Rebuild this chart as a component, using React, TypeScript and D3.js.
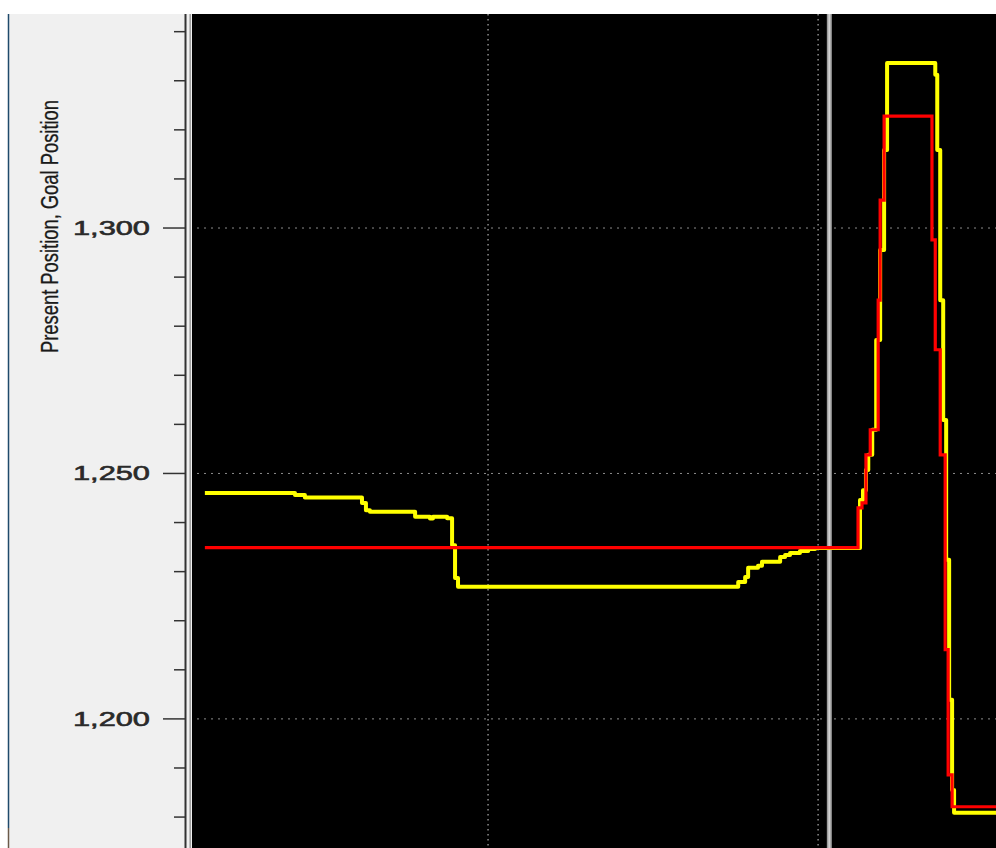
import * as React from "react";
import * as d3 from "d3";

// time in ms, positions in encoder units
const presentTime = [142, 415, 445, 618, 630, 642, 779, 824, 833, 876, 891, 900, 909, 1758, 1779, 1788, 1818, 1830, 1885, 1900, 1915, 1945, 1970, 1991, 2127, 2136, 2145, 2152, 2164, 2176, 2188, 2200, 2209, 2355, 2361, 2370, 2379, 2388, 2397, 2406, 2412, 2539];
const presentPos = [1246.0, 1245.6, 1245.1, 1244.0, 1242.5, 1242.2, 1241.2, 1240.8, 1241.2, 1240.9, 1235.4, 1228.7, 1226.9, 1227.9, 1228.9, 1230.8, 1231.2, 1232.0, 1233.0, 1233.4, 1233.8, 1234.2, 1234.6, 1234.8, 1244.6, 1246.6, 1250.7, 1253.8, 1258.9, 1277.2, 1295.5, 1315.9, 1333.6, 1331.2, 1315.9, 1285.3, 1260.9, 1232.4, 1203.9, 1185.5, 1180.9, 1180.9];

const goalTime = [142, 2121, 2133, 2145, 2158, 2182, 2188, 2200, 2345, 2355, 2370, 2385, 2394, 2406, 2539];
const goalPos = [1234.9, 1243.0, 1244.0, 1253.8, 1258.9, 1285.3, 1305.7, 1322.8, 1297.6, 1275.2, 1253.8, 1214.1, 1188.6, 1182.1, 1182.1];

const majorTicks = [1200, 1250, 1300];
const timeGrid = [1000, 2000];
const cursorTime = 2034;
const yTitle = "Present Position, Goal Position";

export default function App() {
  const width = 996;
  const height = 848;
  const top = 14;
  const plotLeft = 192;

  const x = d3.scaleLinear().domain([103, 2539]).range([plotLeft, width]);
  const y = d3.scaleLinear().domain([1173.7, 1343.6]).range([height, top]);

  const minorTicks = d3.range(1180, 1341, 10).filter((v) => !majorTicks.includes(v));

  const line = d3
    .line<[number, number]>()
    .x((d) => x(d[0]))
    .y((d) => y(d[1]))
    .curve(d3.curveStepAfter);

  const present = line(presentTime.map((t, i) => [t, presentPos[i]] as [number, number]));
  const goal = line(goalTime.map((t, i) => [t, goalPos[i]] as [number, number]));

  const font = "'Liberation Sans', Arial, sans-serif";

  return (
    <svg width={width} height={height} style={{ position: "absolute", left: 0, top: 0 }}>
      <rect x={0} y={0} width={width} height={height} fill="#ffffff" />
      {/* left panel */}
      <rect x={9} y={top} width={plotLeft - 9} height={height - top} fill="#f0f0f0" />
      <line x1={8.5} x2={8.5} y1={top} y2={828} stroke="#1f4a6b" strokeWidth={1.5} />
      <line x1={8.5} x2={8.5} y1={828} y2={height} stroke="#6b5a4a" strokeWidth={1.5} />

      <text
        transform={`translate(58,${(100 + 353) / 2}) rotate(-90)`}
        textAnchor="middle"
        fontFamily={font}
        fontSize={23}
        textLength={253}
        lengthAdjust="spacingAndGlyphs"
        fill="#1a1a1a"
        stroke="#1a1a1a"
        strokeWidth={0.3}
      >
        {yTitle}
      </text>

      {/* axis */}
      <line x1={185.5} x2={185.5} y1={top} y2={height} stroke="#333" strokeWidth={2} />
      <line x1={190.2} x2={190.2} y1={top} y2={height} stroke="#9a9a9a" strokeWidth={1.5} />
      {minorTicks.map((v) => (
        <line key={"mt" + v} x1={174} x2={185} y1={y(v)} y2={y(v)} stroke="#333" strokeWidth={1.5} />
      ))}
      {majorTicks.map((v) => (
        <g key={"t" + v}>
          <line x1={163} x2={185} y1={y(v)} y2={y(v)} stroke="#333" strokeWidth={1.5} />
          <text
            x={150}
            y={y(v)}
            dy="0.35em"
            textAnchor="end"
            fontFamily={font}
            fontSize={20}
            textLength={77}
            lengthAdjust="spacingAndGlyphs"
            fill="#2a2a2a"
            stroke="#2a2a2a"
            strokeWidth={0.6}
          >
            {d3.format(",")(v)}
          </text>
        </g>
      ))}

      {/* plot area */}
      <defs>
        <clipPath id="plotClip">
          <rect x={plotLeft} y={top} width={width - plotLeft} height={height - top} />
        </clipPath>
      </defs>
      <rect x={plotLeft} y={top} width={width - plotLeft} height={height - top} fill="#000" />
      <g clipPath="url(#plotClip)">
        {majorTicks.map((v) => (
          <line
            key={"g" + v}
            x1={plotLeft + 5}
            x2={width}
            y1={y(v)}
            y2={y(v)}
            stroke="#8c8c8c"
            strokeWidth={1}
            strokeDasharray="2,5"
          />
        ))}
        {timeGrid.map((t) => (
          <line
            key={"v" + t}
            x1={x(t)}
            x2={x(t)}
            y1={top}
            y2={height}
            stroke="#8c8c8c"
            strokeWidth={1.5}
            strokeDasharray="1.5,3.5"
          />
        ))}
        <rect x={x(cursorTime) - 2.5} y={top} width={5} height={height - top} fill="#9c9c9c" />
        <line x1={x(cursorTime)} x2={x(cursorTime)} y1={top} y2={height} stroke="#cfcfcf" strokeWidth={2} />

        <path d={present ?? ""} fill="none" stroke="#ffff00" strokeWidth={4} strokeLinejoin="round" />
        <path d={goal ?? ""} fill="none" stroke="#ff0000" strokeWidth={3.2} />
      </g>
    </svg>
  );
}
